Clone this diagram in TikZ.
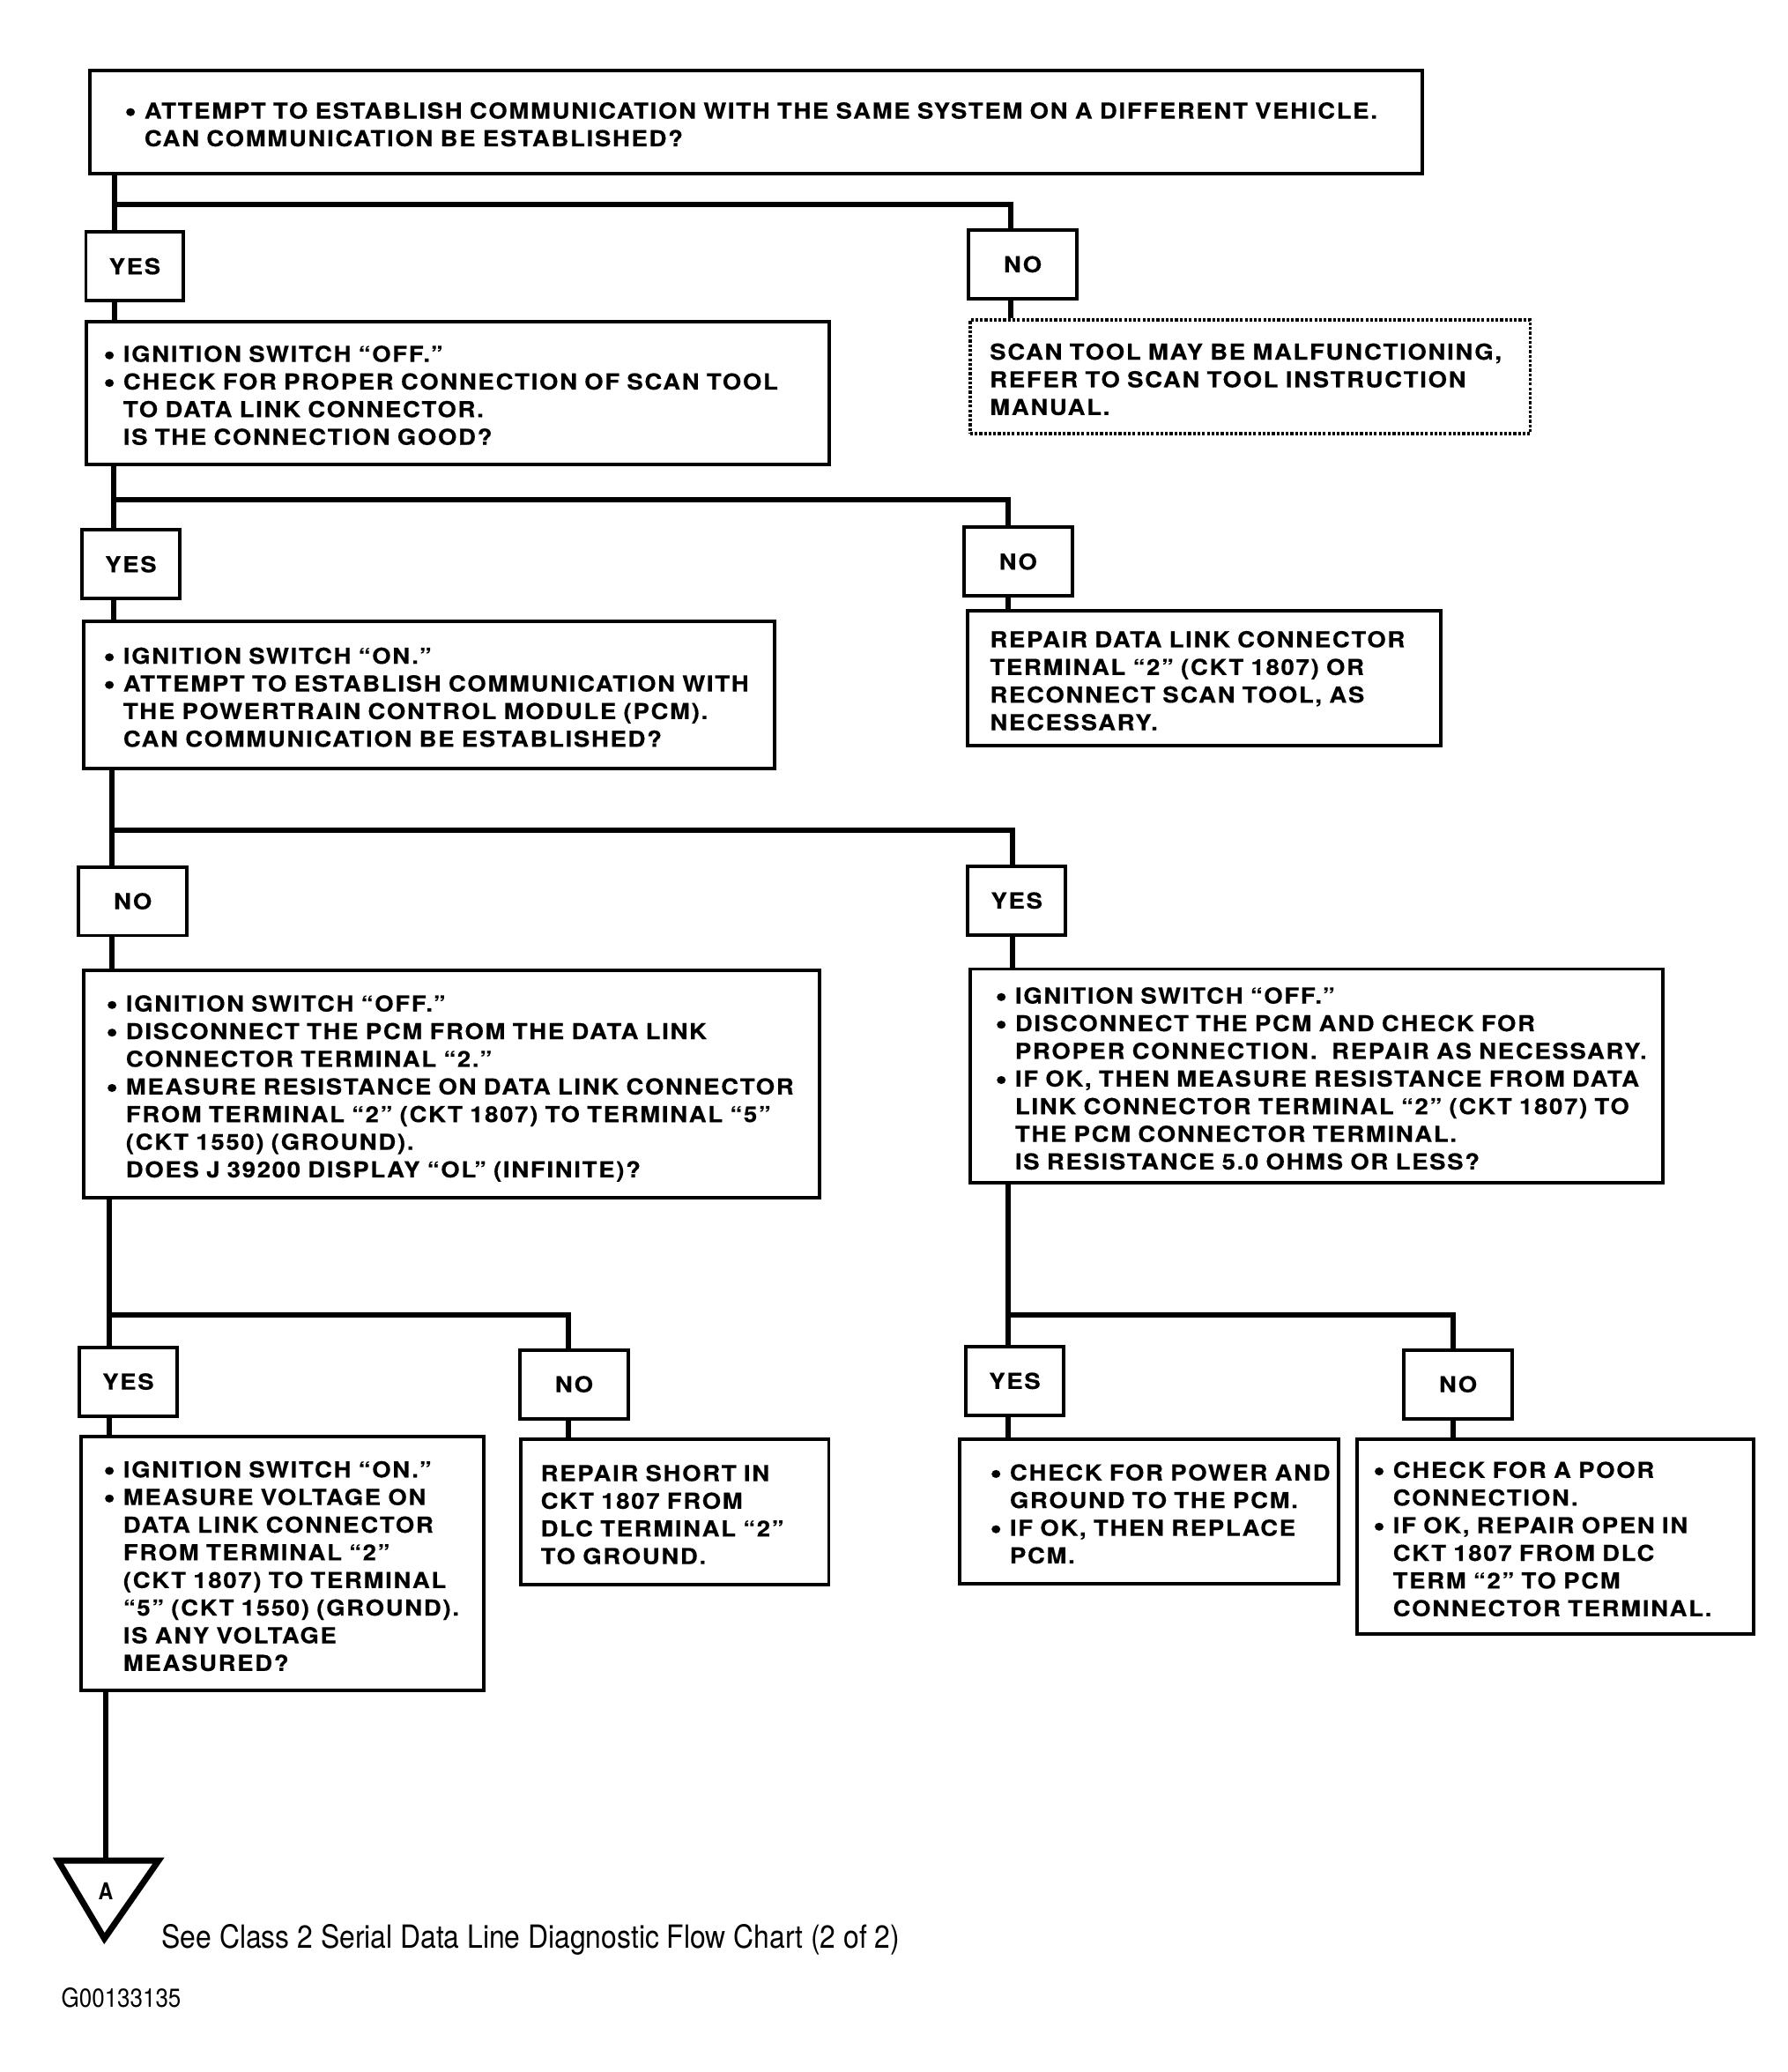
\documentclass[tikz,border=0pt]{standalone}
\usepackage{fontspec}
\usepackage{tikz}
\newfontfamily\flowfont[FakeStretch=1.1,LetterSpace=7,FakeBold=0.4]{TeX Gyre Heros}
\newfontfamily\notefont[FakeStretch=0.88]{TeX Gyre Heros}
\newcommand\boxfont{\flowfont\bfseries\fontsize{7.1}{8.93}\selectfont}
\newcommand\bul{\makebox[6.4pt][l]{\raisebox{-0.9pt}{\fontsize{10}{10}\selectfont•}}}
\newcommand\ind{\hspace*{6.4pt}}
\newcommand\boxlines[1]{\raisebox{-1.6pt}[\height][\depth]{\begin{tabular}{@{}l@{}}#1\end{tabular}}}

\begin{document}
\begin{tikzpicture}[x=0.015cm,y=-0.015cm,
  box/.style={draw, line width=1.1pt, anchor=north west, inner ysep=0pt, font=\boxfont},
  dotbox/.style={box, line width=1pt, dash pattern=on 0.9pt off 0.6pt},
  ans/.style={draw, line width=1.1pt, inner sep=0pt, minimum height=0.78cm, font=\boxfont},
  yesbox/.style={ans, minimum width=1.11cm},
  nobox/.style={ans, minimum width=1.23cm},
  link/.style={line width=1.7pt}]
\useasboundingbox (0,0) rectangle (1353,1568);

\node[box, inner xsep=0.39cm, text width=14.34cm, minimum height=1.17cm] (attempt) at (67,52)
  {\boxlines{\bul ATTEMPT TO ESTABLISH COMMUNICATION WITH THE SAME SYSTEM ON A DIFFERENT VEHICLE.\\
   \ind CAN COMMUNICATION BE ESTABLISHED?}};

\node[yesbox] (yes1) at (102,201.5) {YES};
\node[nobox] (no1) at (774,200) {NO};

\node[box, inner xsep=0.195cm, text width=8.04cm, minimum height=1.62cm] (connect) at (64,242)
  {\boxlines{\bul IGNITION SWITCH “OFF.”\\
   \bul CHECK FOR PROPER CONNECTION OF SCAN TOOL\\
   \ind TO DATA LINK CONNECTOR.\\
   \ind IS THE CONNECTION GOOD?}};
\node[dotbox, inner xsep=0.225cm, text width=5.91cm, minimum height=1.29cm] (scantool) at (733,241)
  {\boxlines{SCAN TOOL MAY BE MALFUNCTIONING,\\
   REFER TO SCAN TOOL INSTRUCTION\\
   MANUAL.}};

\node[yesbox] (yes2) at (99,427) {YES};
\node[nobox] (no2) at (770.5,425) {NO};

\node[box, inner xsep=0.225cm, text width=7.395cm, minimum height=1.665cm] (pcmcomm) at (62,469)
  {\boxlines{\bul IGNITION SWITCH “ON.”\\
   \bul ATTEMPT TO ESTABLISH COMMUNICATION WITH\\
   \ind THE POWERTRAIN CONTROL MODULE (PCM).\\
   \ind CAN COMMUNICATION BE ESTABLISHED?}};
\node[box, inner xsep=0.255cm, text width=4.86cm, minimum height=1.53cm] (repairdlc) at (731,461)
  {\boxlines{REPAIR DATA LINK CONNECTOR\\
   TERMINAL “2” (CKT 1807) OR\\
   RECONNECT SCAN TOOL, AS\\
   NECESSARY.}};

\node[nobox] (no3) at (100.5,682) {NO};
\node[yesbox] (yes3) at (769.5,681.5) {YES};

\node[box, inner xsep=0.255cm, text width=7.845cm, minimum height=2.58cm] (dlcres) at (62,733)
  {\boxlines{\bul IGNITION SWITCH “OFF.”\\
   \bul DISCONNECT THE PCM FROM THE DATA LINK\\
   \ind CONNECTOR TERMINAL “2.”\\
   \bul MEASURE RESISTANCE ON DATA LINK CONNECTOR\\
   \ind FROM TERMINAL “2” (CKT 1807) TO TERMINAL “5”\\
   \ind (CKT 1550) (GROUND).\\
   \ind DOES J 39200 DISPLAY “OL” (INFINITE)?}};
\node[box, inner xsep=0.285cm, text width=7.29cm, minimum height=2.43cm] (pcmres) at (733,732)
  {\boxlines{\bul IGNITION SWITCH “OFF.”\\
   \bul DISCONNECT THE PCM AND CHECK FOR\\
   \ind PROPER CONNECTION.\ \ REPAIR AS NECESSARY.\\
   \bul IF OK, THEN MEASURE RESISTANCE FROM DATA\\
   \ind LINK CONNECTOR TERMINAL “2” (CKT 1807) TO\\
   \ind THE PCM CONNECTOR TERMINAL.\\
   \ind IS RESISTANCE 5.0 OHMS OR LESS?}};

\node[yesbox] (yes4) at (97,1045.5) {YES};
\node[nobox] (no4) at (434.5,1047.5) {NO};
\node[yesbox] (yes5) at (768,1045) {YES};
\node[nobox] (no5) at (1103.5,1047.5) {NO};

\node[box, inner xsep=0.255cm, text width=4.065cm, minimum height=2.88cm] (voltage) at (60,1086)
  {\boxlines{\bul IGNITION SWITCH “ON.”\\
   \bul MEASURE VOLTAGE ON\\
   \ind DATA LINK CONNECTOR\\
   \ind FROM TERMINAL “2”\\
   \ind (CKT 1807) TO TERMINAL\\
   \ind “5” (CKT 1550) (GROUND).\\
   \ind IS ANY VOLTAGE\\
   \ind MEASURED?}};
\node[box, inner xsep=0.225cm, text width=3.045cm, minimum height=1.65cm] (short) at (393,1088)
  {\boxlines{REPAIR SHORT IN\\
   CKT 1807 FROM\\
   DLC TERMINAL “2”\\
   TO GROUND.}};
\node[box, inner xsep=0.345cm, text width=3.615cm, minimum height=1.635cm] (power) at (725,1088)
  {\boxlines{\bul CHECK FOR POWER AND\\
   \ind GROUND TO THE PCM.\\
   \bul IF OK, THEN REPLACE\\
   \ind PCM.}};
\node[box, inner xsep=0.18cm, text width=4.14cm, minimum height=2.205cm] (poorconn) at (1026,1088)
  {\boxlines{\bul CHECK FOR A POOR\\
   \ind CONNECTION.\\
   \bul IF OK, REPAIR OPEN IN\\
   \ind CKT 1807 FROM DLC\\
   \ind TERM “2” TO PCM\\
   \ind CONNECTOR TERMINAL.}};

% branch points
\coordinate (j1) at (87,155);  \coordinate (j1r) at (765,155);
\coordinate (j2) at (86,378);  \coordinate (j2r) at (763,378);
\coordinate (j3) at (85,628);  \coordinate (j3r) at (766,628);
\coordinate (j4) at (83,995);  \coordinate (j4r) at (430,995);
\coordinate (j5) at (763,995); \coordinate (j5r) at (1100,995);
\coordinate (tri) at (80,1408);

\draw[link] (attempt.south -| j1) -- (yes1.north -| j1);
\draw[link] (j1) -- (j1r) -- (no1.north -| j1r);
\draw[link] (yes1.south -| j1) -- (connect.north -| j1);
\draw[link] (no1.south -| j1r) -- (scantool.north -| j1r);

\draw[link] (connect.south -| j2) -- (yes2.north -| j2);
\draw[link] (j2) -- (j2r) -- (no2.north -| j2r);
\draw[link] (yes2.south -| j2) -- (pcmcomm.north -| j2);
\draw[link] (no2.south -| j2r) -- (repairdlc.north -| j2r);

\draw[link] (pcmcomm.south -| j3) -- (no3.north -| j3);
\draw[link] (j3) -- (j3r) -- (yes3.north -| j3r);
\draw[link] (no3.south -| j3) -- (dlcres.north -| j3);
\draw[link] (yes3.south -| j3r) -- (pcmres.north -| j3r);

\draw[link] (dlcres.south -| j4) -- (yes4.north -| j4);
\draw[link] (j4) -- (j4r) -- (no4.north -| j4r);
\draw[link] (yes4.south -| j4) -- (voltage.north -| j4);
\draw[link] (no4.south -| j4r) -- (short.north -| j4r);

\draw[link] (pcmres.south -| j5) -- (yes5.north -| j5);
\draw[link] (j5) -- (j5r) -- (no5.north -| j5r);
\draw[link] (yes5.south -| j5) -- (power.north -| j5);
\draw[link] (no5.south -| j5r) -- (poorconn.north -| j5r);

\draw[link] (voltage.south -| tri) -- (tri);
\draw[line width=2pt] (44,1408) -- (120,1408) -- (79,1467) -- cycle;
\node[font=\notefont\bfseries\fontsize{7.5}{8}\selectfont] (offpage) at (80,1431) {A};

\node[font=\notefont\fontsize{10.3}{12}\selectfont, anchor=west, inner sep=0pt] (seenote) at (122,1468)
  {See Class 2 Serial Data Line Diagnostic Flow Chart (2 of 2)};
\node[font=\notefont\fontsize{8.4}{10}\selectfont, anchor=west, inner sep=0pt] (figid) at (46,1512) {G00133135};
\end{tikzpicture}
\end{document}
